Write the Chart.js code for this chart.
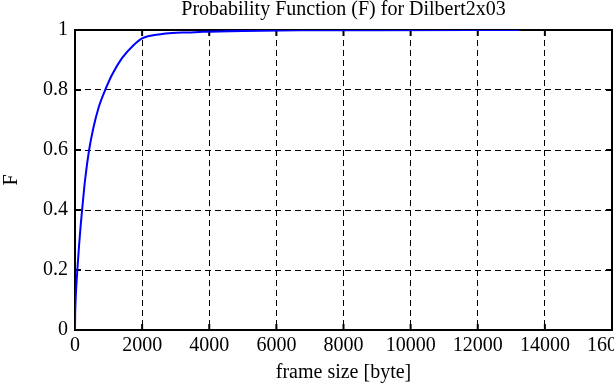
<!DOCTYPE html>
<html>
<head>
<meta charset="utf-8">
<script src="https://cdn.jsdelivr.net/npm/chart.js@4"></script>
<style>
  html, body { margin: 0; padding: 0; background: #fff; }
  #wrap { width: 614px; height: 385px; }
</style>
</head>
<body>
<div id="wrap"><canvas id="c" width="614" height="385"></canvas></div>
<script>
const frameSize = [0, 5, 15, 30, 70, 120, 170, 220, 300, 420, 550, 700, 900, 1100, 1400, 1750, 2000, 2550, 2900, 3400, 3800, 5000, 6700, 9000, 13250];
const probF =     [0, 0.05, 0.09, 0.128, 0.2, 0.28, 0.35, 0.41, 0.5, 0.6, 0.675, 0.74, 0.8, 0.85, 0.906, 0.95, 0.972, 0.986, 0.99, 0.992, 0.994, 0.997, 0.999, 0.9995, 1.0];
const xTicks = [0, 2000, 4000, 6000, 8000, 10000, 12000, 14000, 16000];
const yTicks = [0, 0.2, 0.4, 0.6, 0.8, 1];

const titleText = 'Probability Function (F) for Dilbert2x03';
const xTitle = 'frame size [byte]';
const yTitle = 'F';

const FONT = "'Liberation Serif', 'Times New Roman', serif";

const frameTicks = {
  id: 'frameTicks',
  beforeDatasetsDraw(chart) {
    const {ctx, chartArea: a, scales: {x, y}} = chart;
    ctx.save();
    ctx.strokeStyle = '#000';
    ctx.lineWidth = 2;
    ctx.setLineDash([]);
    ctx.strokeRect(a.left, a.top, a.right - a.left, a.bottom - a.top);
    const L = 6;
    ctx.beginPath();
    xTicks.forEach(v => {
      const px = x.getPixelForValue(v);
      ctx.moveTo(px, a.bottom); ctx.lineTo(px, a.bottom - L);
      ctx.moveTo(px, a.top); ctx.lineTo(px, a.top + L);
    });
    yTicks.forEach(v => {
      const py = y.getPixelForValue(v);
      ctx.moveTo(a.left, py); ctx.lineTo(a.left + L, py);
      ctx.moveTo(a.right, py); ctx.lineTo(a.right - L, py);
    });
    ctx.stroke();
    ctx.restore();
  }
};

new Chart(document.getElementById('c'), {
  type: 'line',
  data: {
    datasets: [{
      data: frameSize.map((v, i) => ({x: v, y: probF[i]})),
      borderColor: '#0000ff',
      borderWidth: 2,
      pointRadius: 0,
      cubicInterpolationMode: 'monotone',
      fill: false,
      xAxisID: 'x',
      yAxisID: 'y'
    }]
  },
  options: {
    responsive: false,
    animation: false,
    devicePixelRatio: 1,
    layout: { padding: { left: 0, right: 2, top: 0, bottom: 0 } },
    plugins: {
      legend: { display: false },
      tooltip: { enabled: false },
      title: { display: false }
    },
    scales: {
      x: {
        type: 'linear',
        position: 'bottom',
        min: 0, max: 16000,
        afterBuildTicks(s) { s.ticks = xTicks.map(v => ({value: v})); },
        afterFit(s) { s.height = 55; s.paddingLeft = 0; s.paddingRight = 0; },
        ticks: {
          color: '#000',
          font: { family: FONT, size: 20 },
          padding: 4,
          autoSkip: false,
          maxRotation: 0,
          callback: v => String(v)
        },
        grid: { color: '#000', lineWidth: 1, drawTicks: false },
        border: { display: false, dash: [6, 4] },
        title: {
          display: true, text: xTitle, color: '#000',
          font: { family: FONT, size: 20 },
          padding: { top: 0, bottom: 0 }
        }
      },
      xTop: {
        type: 'linear',
        position: 'top',
        min: 0, max: 16000,
        afterFit(s) { s.height = 30; s.paddingLeft = 0; s.paddingRight = 0; },
        ticks: { display: false },
        grid: { display: false, drawTicks: false },
        border: { display: false },
        title: {
          display: true, text: titleText, color: '#000',
          font: { family: FONT, size: 20, lineHeight: 1.0 },
          padding: { top: 0, bottom: 0 }
        }
      },
      y: {
        type: 'linear',
        min: 0, max: 1,
        afterBuildTicks(s) { s.ticks = yTicks.map(v => ({value: v})); },
        afterFit(s) { s.width = 75; s.paddingTop = 0; s.paddingBottom = 0; },
        ticks: {
          color: '#000',
          font: { family: FONT, size: 20 },
          padding: 7,
          autoSkip: false,
          callback: v => String(v)
        },
        grid: { color: '#000', lineWidth: 1, drawTicks: false },
        border: { display: false, dash: [6, 4] },
        title: {
          display: true, text: yTitle, color: '#000',
          font: { family: FONT, size: 20 },
          padding: { top: 0, bottom: 0 }
        }
      }
    }
  },
  plugins: [frameTicks]
});
</script>
</body>
</html>
